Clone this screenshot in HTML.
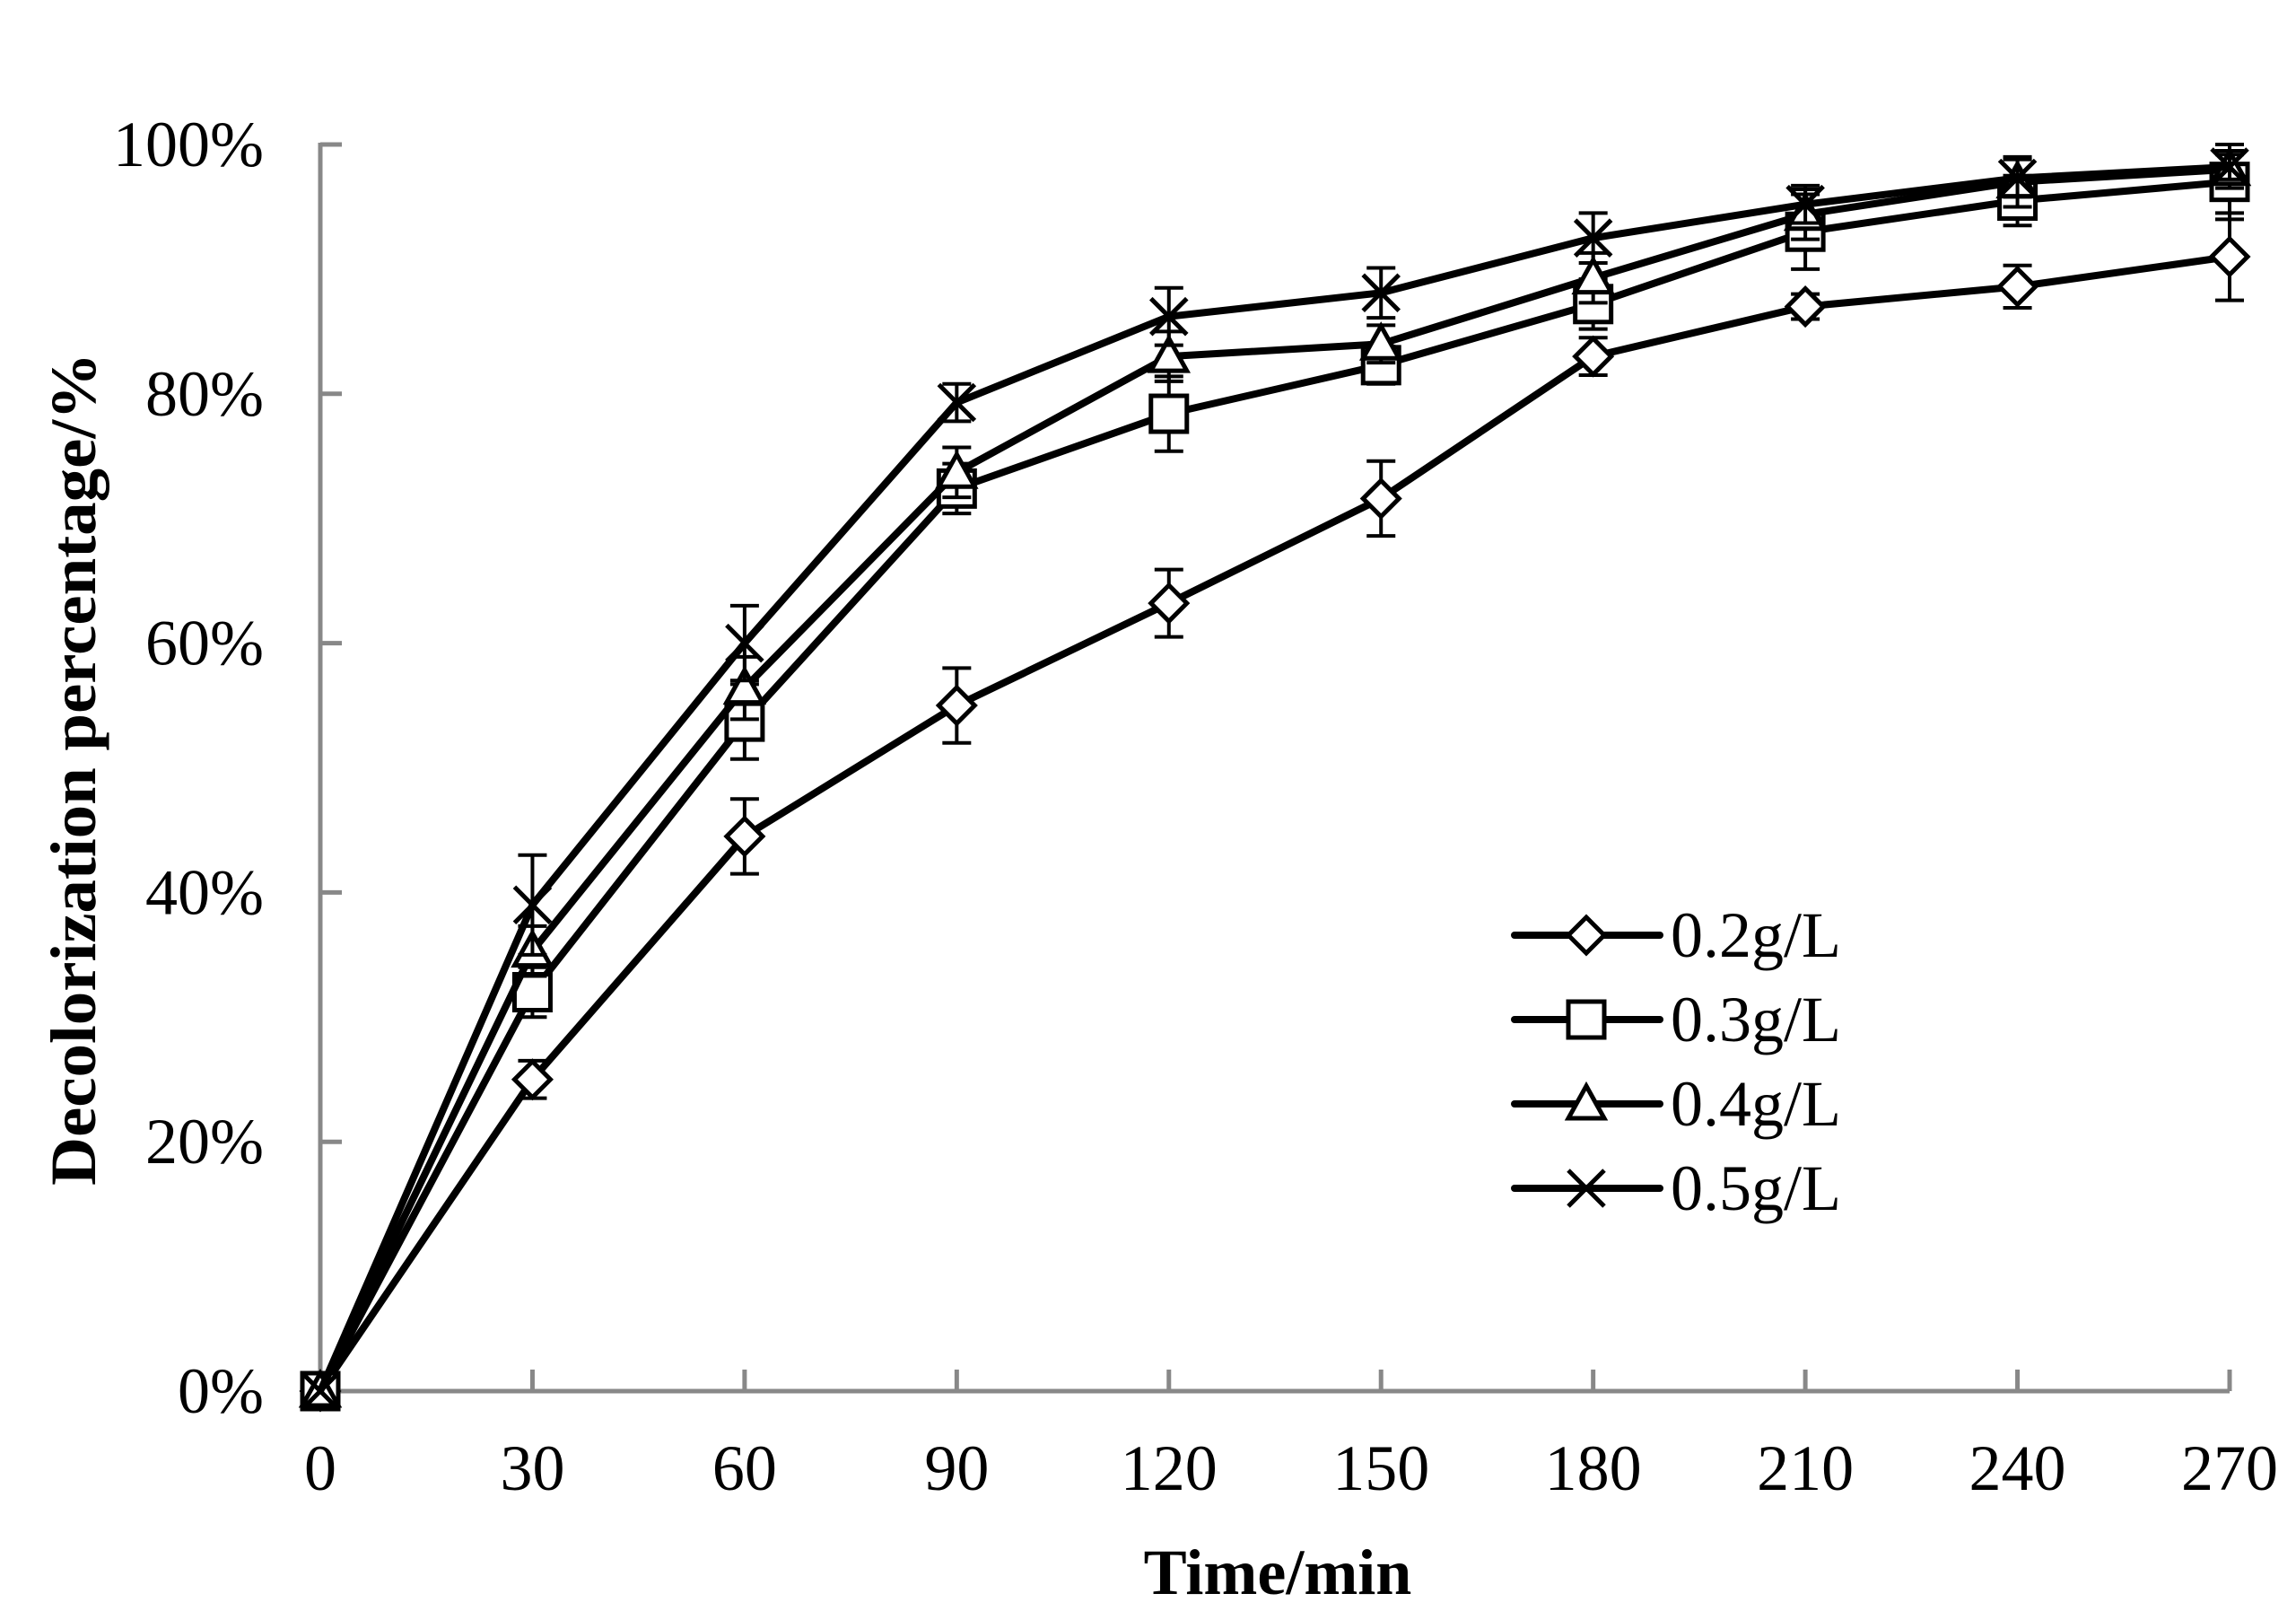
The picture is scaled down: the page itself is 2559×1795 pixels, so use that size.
<!DOCTYPE html>
<html><head><meta charset="utf-8"><style>
html,body{margin:0;padding:0;background:#fff;}
svg{display:block;}
text{font-family:"Liberation Serif",serif;fill:#000;}
</style></head><body>
<svg id="chart" width="2559" height="1795" viewBox="0 0 2559 1795" xmlns="http://www.w3.org/2000/svg">
<g id="axes"></g><g id="series"></g><g id="legend"></g>
</svg>
<script>
const categories = [0,30,60,90,120,150,180,210,240,270];
const yTicks = [0,20,40,60,80,100];
const seriesNames = ["0.2g/L","0.3g/L","0.4g/L","0.5g/L"];
const s02 = [0,25,44.5,55,63.2,71.6,83,87,88.6,91];
const s03 = [0,32,53.7,72.4,78.4,82.3,87.2,93,95.5,97];
const s04 = [0,35.3,56.4,73.7,83,84,89.3,94.4,97,98];
const s05 = [0,39,60,79.3,86.2,88.1,92.5,95.2,97.3,98.2];
const e02 = [0,1.5,3,3,2.7,3,1.5,1,1.7,3.5];
const e03 = [0,2,3,2,3,1.5,2,3,2,3];
const e04 = [0,2,2.5,2,2,1.5,2,2,2,1.5];
const e05 = [0,4,3,1.5,2.3,2,2,1.5,1.5,1];
const markers = ["diamond","square","triangle","cross"];

const NS="http://www.w3.org/2000/svg";
const X0=357,X1=2485,Y0=1550,Y1=161;
function xs(v){return X0+(v-0)/(270-0)*(X1-X0);}
function ys(v){return Y0-(v-0)/(100-0)*(Y0-Y1);}
function mk(tag,attrs,parent){const e=document.createElementNS(NS,tag);for(const k in attrs)e.setAttribute(k,attrs[k]);parent.appendChild(e);return e;}
const axes=document.getElementById('axes'),ser=document.getElementById('series'),leg=document.getElementById('legend');

let a=mk('line',{x1:X0,y1:Y0,x2:X1,y2:Y0,stroke:'#888',"stroke-width":5},axes);


a=mk('line',{x1:X0,y1:Y0+2,x2:X0,y2:Y1-2,stroke:'#888',"stroke-width":5},axes);


yTicks.forEach(t=>{
  const tk=mk('line',{x1:X0,y1:ys(t),x2:X0+24,y2:ys(t),stroke:'#888',"stroke-width":5},axes);
  
  
  const tx=mk('text',{x:294,y:ys(t)+24,"text-anchor":"end","font-size":72},axes);
  tx.textContent=t+'%';
  
  
});
categories.forEach(c=>{
  if(c>0){const tk=mk('line',{x1:xs(c),y1:Y0,x2:xs(c),y2:Y0-24,stroke:'#888',"stroke-width":5},axes);
  
  }
  const tx=mk('text',{x:xs(c),y:1660,"text-anchor":"middle","font-size":72},axes);
  tx.textContent=c;
  
  
});
let t=mk('text',{x:1424,y:1776,"text-anchor":"middle","font-size":72,"font-weight":"bold"},axes);
t.textContent='Time/min';


t=mk('text',{x:0,y:0,"text-anchor":"middle","font-size":72,"font-weight":"bold",transform:"translate(106,857) rotate(-90)",textLength:928,lengthAdjust:"spacingAndGlyphs"},axes);
t.textContent='Decolorization percentage/%';



function marker(type,x,y,g){
  const r=20;const st={fill:type==='cross'?'none':'#fff',stroke:'#000',"stroke-width":5};
  if(type==='diamond')mk('polygon',Object.assign({points:`${x},${y-r} ${x+r},${y} ${x},${y+r} ${x-r},${y}`},st),g);
  else if(type==='square')mk('rect',Object.assign({x:x-r,y:y-r,width:2*r,height:2*r},st),g);
  else if(type==='triangle')mk('polygon',Object.assign({points:`${x},${y-r} ${x+r},${y+r*0.8} ${x-r},${y+r*0.8}`},st),g);
  else {mk('line',{x1:x-r,y1:y-r,x2:x+r,y2:y+r,stroke:'#000',"stroke-width":5},g);mk('line',{x1:x-r,y1:y+r,x2:x+r,y2:y-r,stroke:'#000',"stroke-width":5},g);}
}
const allS=[s02,s03,s04,s05],allE=[e02,e03,e04,e05];
allS.forEach((s,i)=>{
  const g=mk('g',{},ser);
  
  
  const pl=mk('polyline',{points:s.map((v,j)=>xs(categories[j])+','+ys(v)).join(' '),fill:'none',stroke:'#000',"stroke-width":8,"stroke-linejoin":"round"},g);
  
  
  s.forEach((v,j)=>{
    const x=xs(categories[j]),e=allE[i][j];
    if(e>0){
      const eb=mk('path',{d:`M${x},${ys(v-e)}V${ys(v+e)}M${x-16},${ys(v-e)}H${x+16}M${x-16},${ys(v+e)}H${x+16}`,stroke:'#000',"stroke-width":4,fill:'none'},g);
      
      
    }
    marker(markers[i],x,ys(v),g);
  });
});
seriesNames.forEach((n,i)=>{
  const y=1042+i*94;
  const g=mk('g',{},leg);
  
  
  mk('line',{x1:1688,y1:y,x2:1850,y2:y,stroke:'#000',"stroke-width":8,"stroke-linecap":"round"},g);
  marker(markers[i],1768,y,g);
  const tx=mk('text',{x:1862,y:y+24,"font-size":72},g);
  tx.textContent=n;
});
</script>
</body></html>
